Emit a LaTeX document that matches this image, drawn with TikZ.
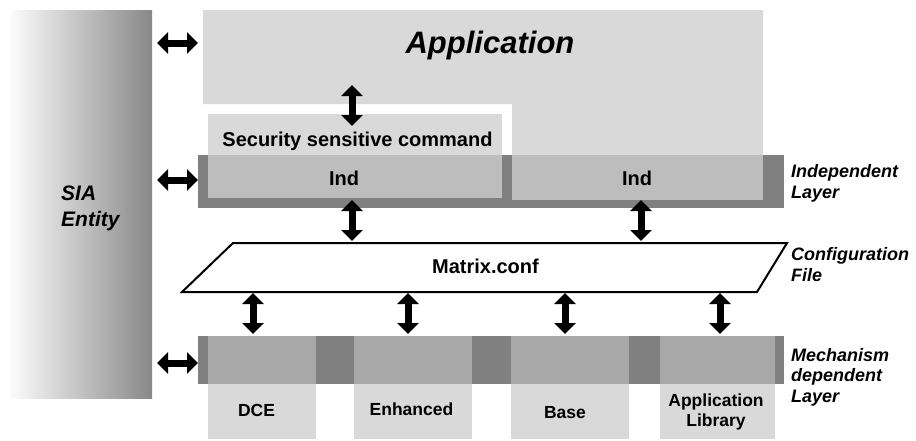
\documentclass[tikz,border=0pt]{standalone}
\usepackage{fontspec}
\setmainfont{Liberation Sans}
\usetikzlibrary{arrows.meta,calc}
\definecolor{lg}{RGB}{217,217,217}
\definecolor{ig}{RGB}{189,189,189}
\definecolor{mg}{RGB}{168,168,168}
\definecolor{dg}{RGB}{128,128,128}
\definecolor{sialeft}{RGB}{252,252,252}
\definecolor{siaright}{RGB}{136,136,136}
\tikzset{
  blk/.style={draw=none, inner sep=0pt, outer sep=0pt, anchor=north west},
  dbl/.style={line width=7pt, {Triangle[length=11pt,width=21pt]}-{Triangle[length=11pt,width=21pt]}},
  lbl/.style={font=\fontsize{20}{22}\selectfont\bfseries, inner sep=0pt, anchor=base},
  sml/.style={font=\fontsize{17.5}{20}\selectfont\bfseries, inner sep=0pt, anchor=base, align=center},
  side/.style={font=\fontsize{18}{20.5}\selectfont\bfseries\itshape, inner sep=0pt, anchor=base west, align=left},
}
\begin{document}
\begin{tikzpicture}[x=1pt,y=-1pt]
\useasboundingbox (0,0) rectangle (916,440);
% SIA entity
\node[blk, left color=sialeft, right color=siaright, minimum width=142pt, minimum height=388pt] (sia) at (10,10) {};
\node[font=\fontsize{21}{26}\selectfont\bfseries\itshape, inner sep=0pt, anchor=base west, align=left] (siat) at (61,226) {SIA\\Entity};
% Application L shape
\fill[lg] (203,10) -- (763,10) -- (763,155) -- (512,155) -- (512,104) -- (203,104) -- cycle;
\node[font=\fontsize{31}{34}\selectfont\bfseries\itshape, inner sep=0pt, anchor=base] (app) at (490,53) {Application};
% Independent layer
\node[blk, fill=dg, minimum width=586pt, minimum height=53pt] (indbar) at (198,155) {};
\node[blk, fill=ig, minimum width=294pt, minimum height=43pt] (ind1) at (208,155) {};
\node[blk, fill=ig, minimum width=251pt, minimum height=45pt] (ind2) at (512,155) {};
\node[blk, fill=lg, minimum width=294pt, minimum height=41pt] (ssc) at (208,114) {};
\node[lbl] (ssct) at (357.5,146) {Security sensitive command};
\node[lbl] (ind1t) at (344,185) {Ind};
\node[lbl] (ind2t) at (637,185) {Ind};
\node[side] (indl) at (791,198) {Independent\\Layer};
% Configuration file
\draw[line width=2pt, fill=white, line join=miter] (182,292) -- (233,243) -- (787,243) -- (757,292) -- cycle;
\node[lbl] (mat) at (485.5,273) {Matrix.conf};
\node[side] (cfl) at (791,281) {Configuration\\File};
% Mechanism dependent layer
\node[blk, fill=dg, minimum width=586pt, minimum height=48pt] (mbar) at (198,336) {};
\node[blk, fill=mg, minimum width=108pt, minimum height=48pt] (m1) at (208,336) {};
\node[blk, fill=mg, minimum width=118pt, minimum height=48pt] (m2) at (354,336) {};
\node[blk, fill=mg, minimum width=118pt, minimum height=48pt] (m3) at (511,336) {};
\node[blk, fill=mg, minimum width=115pt, minimum height=48pt] (m4) at (660,336) {};
\node[blk, fill=lg, minimum width=108pt, minimum height=55pt] (b1) at (208,384) {};
\node[blk, fill=lg, minimum width=118pt, minimum height=55pt] (b2) at (354,384) {};
\node[blk, fill=lg, minimum width=118pt, minimum height=55pt] (b3) at (511,384) {};
\node[blk, fill=lg, minimum width=115pt, minimum height=55pt] (b4) at (660,384) {};
\node[sml] (b1t) at (256.5,416) {DCE};
\node[sml] (b2t) at (411.5,415) {Enhanced};
\node[sml] (b3t) at (565,418) {Base};
\node[sml] (b4t) at (716,426) {Application\\Library};
\node[side] (mdl) at (791,402) {Mechanism\\dependent\\Layer};
% arrow end points
\coordinate (h1a) at (157,43);  \coordinate (h1b) at (198,43);
\coordinate (h2a) at (157,180); \coordinate (h2b) at (198,180);
\coordinate (h3a) at (157,363); \coordinate (h3b) at (198,363);
\coordinate (v0a) at (352,85);  \coordinate (v0b) at (352,126);
\coordinate (v1a) at (352,200); \coordinate (v1b) at (352,241);
\coordinate (v2a) at (641,200); \coordinate (v2b) at (641,241);
\coordinate (w1a) at (253,293); \coordinate (w1b) at (253,334);
\coordinate (w2a) at (408,293); \coordinate (w2b) at (408,334);
\coordinate (w3a) at (565,293); \coordinate (w3b) at (565,334);
\coordinate (w4a) at (720,293); \coordinate (w4b) at (720,334);
\foreach \a/\b in {h1a/h1b,h2a/h2b,h3a/h3b,v0a/v0b,v1a/v1b,v2a/v2b,w1a/w1b,w2a/w2b,w3a/w3b,w4a/w4b}
  \draw[dbl] (\a) -- (\b);
\end{tikzpicture}
\end{document}
